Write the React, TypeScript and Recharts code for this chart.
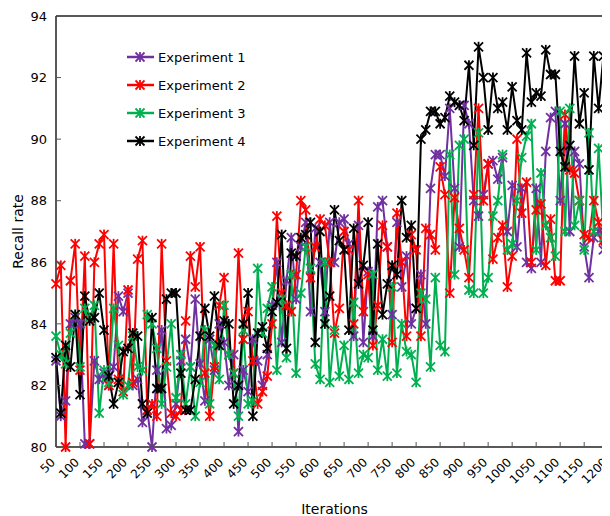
import React from 'react';
import { LineChart, Line, XAxis, YAxis, ReferenceLine, Legend } from 'recharts';

const iterations = [
  50, 60, 70, 80, 90, 100, 110, 120, 130, 140,
  150, 160, 170, 180, 190, 200, 210, 220, 230, 240,
  250, 260, 270, 280, 290, 300, 310, 320, 330, 340,
  350, 360, 370, 380, 390, 400, 410, 420, 430, 440,
  450, 460, 470, 480, 490, 500, 510, 520, 530, 540,
  550, 560, 570, 580, 590, 600, 610, 620, 630, 640,
  650, 660, 670, 680, 690, 700, 710, 720, 730, 740,
  750, 760, 770, 780, 790, 800, 810, 820, 830, 840,
  850, 860, 870, 880, 890, 900, 910, 920, 930, 940,
  950, 960, 970, 980, 990, 1000, 1010, 1020, 1030, 1040,
  1050, 1060, 1070, 1080, 1090, 1100, 1110, 1120, 1130, 1140,
  1150, 1160, 1170, 1180, 1190, 1200, 1210,
];

const exp1 = [
  82.8, 81.0, 81.5, 84.0, 84.2, 84.0, 80.1, 80.1, 82.8, 82.2,
  82.4, 82.0, 82.6, 84.9, 84.4, 85.0, 82.0, 82.2, 80.8, 81.2,
  80.0, 82.5, 83.8, 80.6, 80.7, 81.4, 82.8, 83.5, 82.6, 84.8,
  82.7, 81.5, 83.5, 82.5, 84.0, 83.4, 82.0, 83.0, 80.5, 82.5,
  81.8, 83.5, 82.8, 82.0, 83.0, 84.6, 86.0, 83.4, 85.4, 86.8,
  84.8, 86.5, 87.3, 84.4, 87.1, 86.0, 84.4, 87.3, 86.0, 87.3,
  87.4, 86.6, 83.6, 87.2, 83.4, 85.7, 83.6, 87.8, 88.0, 86.5,
  84.3, 87.3, 85.2, 86.2, 84.0, 84.5, 85.6, 84.0, 88.4, 89.5,
  89.5, 88.8, 91.0, 88.4, 86.5, 91.1, 90.5, 88.0, 87.5, 88.2,
  89.2, 89.3, 88.7, 89.4, 87.0, 88.5, 86.5, 88.4, 86.0, 85.8,
  88.4, 86.0, 89.6, 90.7, 90.9, 88.0, 90.5, 87.0, 89.6, 89.2,
  86.5, 85.5, 86.8, 87.0, 86.4, 88.5, 87.0,
];

const exp2 = [
  85.3, 85.9, 80.0, 85.4, 86.6, 82.5, 86.2, 80.1, 86.0, 86.6,
  86.9, 82.0, 86.6, 82.2, 81.8, 85.1, 82.1, 86.1, 86.7, 81.2,
  81.4, 81.0, 86.6, 82.8, 81.1, 81.0, 81.2, 84.1, 86.2, 85.2,
  86.5, 82.4, 81.0, 82.6, 84.6, 85.5, 83.0, 82.4, 86.3, 83.5,
  84.4, 82.8, 81.4, 81.8, 82.3, 84.0, 87.5, 85.0, 84.6, 84.4,
  85.6, 88.0, 87.7, 85.5, 86.5, 87.4, 87.2, 86.0, 83.7, 84.5,
  87.0, 86.4, 84.0, 88.0, 84.4, 85.6, 83.3, 84.6, 87.2, 86.5,
  83.4, 87.6, 86.0, 83.6, 86.9, 86.4, 83.6, 87.1, 86.9, 86.4,
  89.1, 88.2, 85.0, 88.1, 87.1, 86.4, 85.5, 88.2, 91.0, 88.0,
  89.2, 86.1, 86.8, 87.2, 85.2, 86.2, 90.0, 87.6, 88.6, 86.0,
  87.7, 87.9, 85.9, 87.4, 85.4, 85.4, 90.8, 89.0, 88.9, 88.0,
  86.9, 86.8, 88.0, 87.3, 86.7, 90.6, 88.0,
];

const exp3 = [
  83.6, 83.0, 82.7, 83.7, 84.3, 82.6, 84.5, 84.2, 84.6, 81.1,
  82.5, 82.1, 84.5, 83.3, 81.7, 82.0, 83.6, 82.6, 82.5, 84.3,
  84.0, 83.2, 81.4, 82.6, 84.0, 81.6, 83.0, 81.4, 82.6, 81.0,
  82.1, 83.8, 81.4, 83.3, 82.2, 84.6, 83.0, 82.4, 81.0, 83.8,
  81.4, 81.5, 85.8, 83.7, 84.5, 85.2, 82.5, 84.8, 82.9, 85.6,
  82.4, 85.0, 86.5, 85.8, 82.7, 82.2, 86.0, 82.1, 83.8, 82.3,
  83.3, 82.2, 84.7, 82.4, 83.0, 82.9, 85.6, 82.5, 83.5, 82.3,
  85.2, 82.4, 84.0, 83.1, 83.0, 82.1, 85.0, 84.8, 82.6, 85.5,
  83.3, 83.1, 89.5, 85.6, 89.8, 90.0, 85.1, 85.0, 90.2, 85.0,
  85.5, 87.5, 88.0, 89.5, 86.4, 86.6, 88.0, 89.4, 90.1, 90.5,
  86.4, 88.9, 87.2, 86.8, 86.2, 90.9, 87.0, 91.0, 87.2, 88.0,
  86.4, 90.2, 87.0, 89.7, 86.8, 89.7, 87.0,
];

const exp4 = [
  82.9, 81.1, 83.3, 82.6, 84.3, 81.7, 84.9, 84.1, 84.2, 85.0,
  83.8, 82.3, 81.4, 82.1, 83.1, 83.2, 83.7, 83.6, 81.4, 81.1,
  84.2, 81.9, 81.9, 84.8, 85.0, 85.0, 82.4, 81.2, 81.2, 82.2,
  83.6, 84.5, 83.6, 84.9, 83.3, 84.1, 84.0, 81.4, 82.0, 84.0,
  85.0, 81.0, 83.7, 83.9, 83.2, 84.4, 84.7, 86.9, 83.2, 86.3,
  86.2, 86.8, 86.9, 87.3, 83.4, 87.0, 84.0, 84.9, 87.7, 86.7,
  86.4, 83.8, 87.1, 85.3, 85.9, 87.3, 83.8, 86.6, 84.3, 85.3,
  85.9, 85.6, 88.0, 86.8, 87.2, 84.5, 90.0, 90.3, 90.9, 90.9,
  90.5, 90.7, 91.4, 91.2, 91.1, 90.6, 92.4, 89.8, 93.0, 92.0,
  90.3, 92.0, 91.0, 91.2, 90.3, 91.7, 90.6, 90.3, 92.8, 91.2,
  91.5, 91.4, 92.9, 92.1, 92.1, 89.6, 89.1, 89.8, 92.7, 90.5,
  91.5, 89.0, 92.7, 91.0, 92.7, 90.3, 86.8,
];

const xTicks = [50, 100, 150, 200, 250, 300, 350, 400, 450, 500, 550, 600, 650, 700, 750, 800, 850, 900, 950, 1000, 1050, 1100, 1150, 1200];
const yTicks = [80, 82, 84, 86, 88, 90, 92, 94];

const seriesNames = ['Experiment 1', 'Experiment 2', 'Experiment 3', 'Experiment 4'];
const seriesColors = ['#7030A0', '#FF0000', '#00B050', '#000000'];
const seriesKeys = ['e1', 'e2', 'e3', 'e4'];

const data = iterations.map((it, i) => ({
  it,
  e1: exp1[i],
  e2: exp2[i],
  e3: exp3[i],
  e4: exp4[i],
}));

const FONT = '"DejaVu Sans", Verdana, sans-serif';

function Star({ cx, cy, color }: { cx: number; cy: number; color: string }) {
  const r = 4.5;
  return (
    <g stroke={color} strokeWidth={1.8} fill="none">
      <line x1={cx - r} y1={cy - r} x2={cx + r} y2={cy + r} />
      <line x1={cx - r} y1={cy + r} x2={cx + r} y2={cy - r} />
      <line x1={cx} y1={cy - r - 0.5} x2={cx} y2={cy + r + 0.5} />
    </g>
  );
}

const makeDot = (color: string) => (props: any) => {
  const { cx, cy, index } = props;
  if (cx == null || cy == null) return <g key={`d${index}`} />;
  return <Star key={`d${index}`} cx={cx} cy={cy} color={color} />;
};

const XTick = (props: any) => {
  const { x, y, payload } = props;
  const tx = x;
  const ty = y + 16;
  return (
    <g>
      <line x1={x} y1={y} x2={x} y2={y - 5} stroke="#555" strokeWidth={1} />
      <text x={tx} y={ty} textAnchor="end" fontSize={12} fontFamily={FONT} fill="#000" transform={`rotate(-45 ${tx} ${ty})`}>
        {payload.value}
      </text>
    </g>
  );
};

const YTick = (props: any) => {
  const { x, y, payload } = props;
  return (
    <g>
      <line x1={x} y1={y} x2={x + 5} y2={y} stroke="#555" strokeWidth={1} />
      <text x={x - 9} y={y} dy="0.36em" textAnchor="end" fontSize={13} fontFamily={FONT} fill="#000">
        {payload.value}
      </text>
    </g>
  );
};

const renderLegend = () => (
  <div style={{ fontFamily: FONT, fontSize: 13, color: '#000' }}>
    {seriesNames.map((name, i) => (
      <div key={name} style={{ display: 'flex', alignItems: 'center', height: 28 }}>
        <svg width={31} height={14} style={{ display: 'block' }}>
          <line x1={0} y1={7} x2={27} y2={7} stroke={seriesColors[i]} strokeWidth={2.5} />
          <Star cx={13} cy={7} color={seriesColors[i]} />
        </svg>
        <span style={{ whiteSpace: 'nowrap' }}>{name}</span>
      </div>
    ))}
  </div>
);

export default function App() {
  return (
    <div style={{ width: 602, height: 508, overflow: 'hidden' }}>
      <LineChart width={622} height={508} data={data} margin={{ top: 8, right: 17, left: 0, bottom: 0 }}>
        <XAxis
          dataKey="it"
          type="number"
          domain={[50, 1210]}
          ticks={xTicks}
          interval={0}
          height={69}
          tickSize={0}
          tickMargin={0}
          tickLine={false}
          tick={<XTick />}
          axisLine={{ stroke: '#222', strokeWidth: 1.5 }}
          label={{ value: 'Iterations', position: 'insideBottom', offset: 2, fontSize: 14, fill: '#000', fontFamily: FONT }}
        />
        <YAxis
          type="number"
          domain={[80, 94]}
          ticks={yTicks}
          interval={0}
          width={48}
          tickSize={0}
          tickMargin={0}
          tickLine={false}
          tick={<YTick />}
          axisLine={{ stroke: '#222', strokeWidth: 1.5 }}
          label={{ value: 'Recall rate', angle: -90, position: 'insideLeft', offset: 10, fontSize: 14, fill: '#000', fontFamily: FONT, style: { textAnchor: 'middle' } }}
        />
        <ReferenceLine y={94} stroke="#222" strokeWidth={1.5} />
        <Legend
          layout="vertical"
          align="center"
          verticalAlign="middle"
          content={renderLegend}
          wrapperStyle={{ left: 119, top: 35, width: 150 }}
        />
        {seriesKeys.map((k, i) => (
          <Line
            key={k}
            type="linear"
            dataKey={k}
            name={seriesNames[i]}
            stroke={seriesColors[i]}
            strokeWidth={2}
            dot={makeDot(seriesColors[i])}
            activeDot={false}
            isAnimationActive={false}
          />
        ))}
      </LineChart>
    </div>
  );
}
